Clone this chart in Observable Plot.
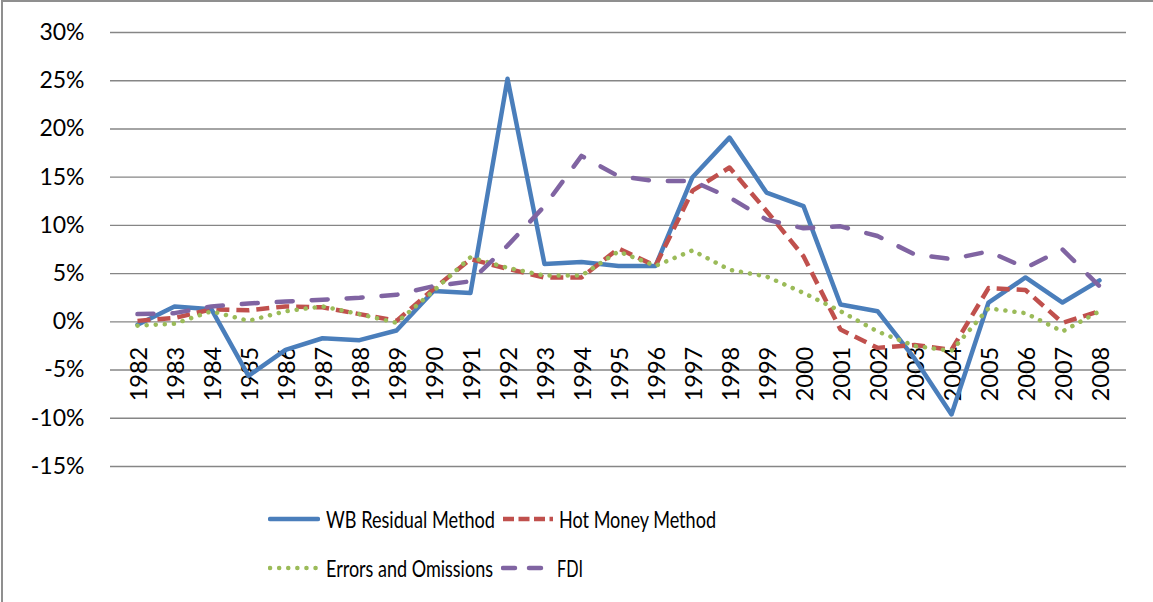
<!DOCTYPE html>
<html>
<head>
<meta charset="utf-8">
<script src="https://cdn.jsdelivr.net/npm/d3@7"></script>
<script src="https://cdn.jsdelivr.net/npm/@observablehq/plot@0.6"></script>
<style>
  html, body { margin: 0; padding: 0; background: #fff; overflow: hidden; }
  #wrap { position: relative; width: 1153px; height: 602px; font-family: Lato, "Open Sans", sans-serif; }
  #frame { position: absolute; left: 1px; top: 0px; width: 1170px; height: 620px; border: 2px solid #8f8f8f; box-sizing: border-box; pointer-events: none; }
  #chart { position: absolute; left: 0; top: 0; }
  .item { position: absolute; display: flex; align-items: center; height: 30px; font-size: 23px; color: #000; white-space: nowrap; }
  .item svg { display: block; }
  .item span { display: inline-block; transform-origin: 0 50%; }
</style>
</head>
<body>
<div id="wrap">
  <div id="chart"></div>
  <div id="legend"></div>
  <div id="frame"></div>
</div>
<script>
const years = [1982,1983,1984,1985,1986,1987,1988,1989,1990,1991,1992,1993,1994,1995,1996,1997,1998,1999,2000,2001,2002,2003,2004,2005,2006,2007,2008];
const wbResidual = [-0.3,1.6,1.3,-5.6,-2.9,-1.7,-1.9,-0.9,3.2,3.0,25.2,6.0,6.2,5.8,5.8,15.0,19.1,13.4,12.0,1.8,1.1,-3.8,-9.6,2.0,4.6,2.0,4.3];
const hotMoney = [0.1,0.4,1.3,1.2,1.6,1.5,0.8,0.1,3.4,6.5,5.5,4.6,4.6,7.6,5.8,13.6,16.0,11.5,6.8,-0.8,-2.7,-2.4,-2.9,3.5,3.3,-0.1,1.1];
const errorsOmissions = [-0.4,-0.2,1.1,0.1,1.1,1.6,0.8,-0.1,3.2,6.7,5.6,4.8,4.8,7.3,5.8,7.4,5.4,4.7,3.0,1.1,-1.0,-2.5,-3.0,1.4,0.9,-1.0,1.1];
const fdi = [0.8,0.9,1.6,1.9,2.1,2.3,2.5,2.8,3.7,4.2,7.9,12.0,17.2,15.1,14.6,14.6,12.9,10.6,9.7,9.9,8.9,7.0,6.5,7.3,5.6,7.5,3.7];
const yTicks = [-15,-10,-5,0,5,10,15,20,25,30];

const seriesNames = ["WB Residual Method","Hot Money Method","Errors and Omissions","FDI"];
const seriesValues = [wbResidual, hotMoney, errorsOmissions, fdi];
const seriesStyle = [
  {stroke:"#4a7ebb", dash:null, cap:"round"},
  {stroke:"#c0504d", dash:"13,7", cap:"butt"},
  {stroke:"#9bbb59", dash:"0.1,9", cap:"round"},
  {stroke:"#8064a2", dash:"16,19", cap:"round"}
];

const lineMarks = seriesValues.map((vals, i) => {
  const rows = years.map((yr, j) => ({year: yr, value: vals[j]}));
  const s = seriesStyle[i];
  return Plot.line(rows, {
    x: "year", y: "value",
    stroke: s.stroke, strokeWidth: 4.5,
    strokeDasharray: s.dash || undefined,
    strokeLinecap: s.cap, strokeLinejoin: "round"
  });
});

const plot = Plot.plot({
  width: 1153, height: 490,
  marginLeft: 110, marginRight: 27, marginTop: 32, marginBottom: 24,
  style: {fontFamily: "Lato, 'Open Sans', sans-serif", fontSize: "23px", color: "#000", background: "transparent"},
  x: {type: "point", domain: years, padding: 0.5, axis: null},
  y: {domain: [-15, 30], label: null},
  marks: [
    Plot.ruleY(yTicks, {stroke: "#868686", strokeWidth: 1.4}),
    Plot.axisY({ticks: yTicks, tickSize: 0, tickPadding: 26, tickFormat: d => d + "%", fontSize: 23, fill: "#000", label: null}),
    Plot.text(years, {x: d => d, y: () => 0, text: d => String(d), rotate: -90, textAnchor: "end", lineAnchor: "middle", dy: 25, dx: 2, fontSize: 23.5, fill: "#000"}),
    ...lineMarks
  ]
});
document.getElementById("chart").appendChild(plot);

// legend (layout: sample position, text start, text width)
const legendPos = [
  {left: 268, top: 504, w: 52, textLeft: 326, textW: 169},
  {left: 501, top: 504, w: 54, textLeft: 559, textW: 157},
  {left: 268, top: 553, w: 52, textLeft: 326, textW: 167},
  {left: 501, top: 553, w: 44, textLeft: 557, textW: 26}
];
const legend = document.getElementById("legend");
seriesNames.forEach((name, i) => {
  const p = legendPos[i], s = seriesStyle[i];
  const item = document.createElement("div");
  item.className = "item";
  item.style.left = p.left + "px";
  item.style.top = p.top + "px";
  const svg = d3.create("svg").attr("width", p.w).attr("height", 30);
  let dash = s.dash;
  if (i === 3) dash = "12,14";
  if (i === 1) dash = "11,4.5";
  svg.append("line").attr("x1", 2).attr("x2", p.w - 2).attr("y1", 15).attr("y2", 15)
    .attr("stroke", s.stroke).attr("stroke-width", 4.5)
    .attr("stroke-linecap", s.cap)
    .attr("stroke-dasharray", dash);
  item.appendChild(svg.node());
  const span = document.createElement("span");
  span.textContent = name;
  span.style.marginLeft = (p.textLeft - p.left - p.w) + "px";
  item.appendChild(span);
  legend.appendChild(item);
  const w = span.getBoundingClientRect().width;
  if (w > 0) span.style.transform = `scaleX(${p.textW / w})`;
});
</script>
</body>
</html>
